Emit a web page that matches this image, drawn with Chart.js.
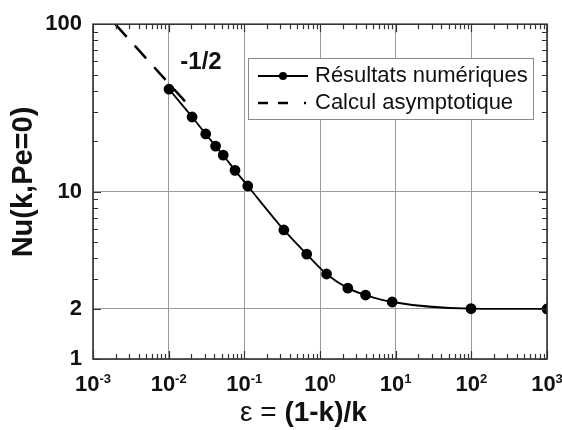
<!DOCTYPE html>
<html><head><meta charset="utf-8">
<script src="https://cdn.jsdelivr.net/npm/chart.js@4"></script>
<style>html,body{margin:0;padding:0;background:#fff}#wrap{width:562px;height:430px}</style>
</head><body><div id="wrap"><canvas id="c" width="562" height="430"></canvas></div>
<script>
// ---- data ----
const epsilon   = [0.0101, 0.0204, 0.0309, 0.0417, 0.0526, 0.0753, 0.111, 0.333, 0.667, 1.22, 2.33, 4.0, 9.0, 99, 999];
const nuNumeric = [40.9, 27.9, 22.1, 18.7, 16.5, 13.4, 10.8, 5.9, 4.23, 3.22, 2.65, 2.41, 2.19, 2.0, 1.99];
const asymEps   = [0.00197, 0.019];
const asymNu    = [100, 32.2];
const xTickExponents = [-3, -2, -1, 0, 1, 2, 3];
const yTickValues    = [1, 2, 10, 100];
const legendLabels   = ['Résultats numériques', 'Calcul asymptotique'];
const slopeLabel     = '-1/2';
const xTitleParts    = ['ε = ', '(1-k)/k'];
const yTitle         = 'Nu(k,Pe=0)';

const FF = "'Liberation Sans', Arial, sans-serif";
const numericPts = epsilon.map((e, i) => ({x: e, y: nuNumeric[i]}));
const asymPts = asymEps.map((e, i) => ({x: e, y: asymNu[i]}));

const decor = {
  id: 'decor',
  beforeDraw(chart) {
    const ctx = chart.ctx;
    ctx.save(); ctx.fillStyle = '#fff'; ctx.fillRect(0, 0, chart.width, chart.height); ctx.restore();
  },
  afterDraw(chart) {
    const ctx = chart.ctx, a = chart.chartArea, xs = chart.scales.x, ys = chart.scales.y;
    ctx.save();
    // minor / major tick marks (inside)
    ctx.strokeStyle = '#333'; ctx.lineWidth = 1.2;
    ctx.beginPath();
    for (let d = -3; d <= 3; d++) {
      for (let m = 1; m <= 9; m++) {
        if (d === 3 && m > 1) break;
        const v = m * Math.pow(10, d);
        const px = Math.round(xs.getPixelForValue(v)) + 0.5;
        const L = m === 1 ? 8 : 5;
        ctx.moveTo(px, a.bottom); ctx.lineTo(px, a.bottom - L);
        ctx.moveTo(px, a.top); ctx.lineTo(px, a.top + L);
      }
    }
    for (let d = 0; d <= 2; d++) {
      for (let m = 1; m <= 9; m++) {
        if (d === 2 && m > 1) break;
        const v = m * Math.pow(10, d);
        const py = Math.round(ys.getPixelForValue(v)) + 0.5;
        const L = yTickValues.includes(v) ? 8 : 5;
        ctx.moveTo(a.left, py); ctx.lineTo(a.left + L, py);
        ctx.moveTo(a.right, py); ctx.lineTo(a.right - L, py);
      }
    }
    ctx.stroke();
    // frame
    ctx.lineWidth = 1.6; ctx.strokeStyle = '#333';
    ctx.strokeRect(a.left, a.top, a.right - a.left, a.bottom - a.top);

    // x tick labels with superscripts
    ctx.fillStyle = '#111'; ctx.textBaseline = 'alphabetic'; ctx.textAlign = 'left';
    xTickExponents.forEach(e => {
      const px = xs.getPixelForValue(Math.pow(10, e));
      ctx.font = `bold 22px ${FF}`;
      const w1 = ctx.measureText('10').width;
      ctx.font = `bold 13px ${FF}`;
      const sup = String(e);
      const w2 = ctx.measureText(sup).width;
      const x0 = px - (w1 + w2) / 2;
      ctx.font = `bold 22px ${FF}`;
      ctx.fillText('10', x0, 391);
      ctx.font = `bold 13px ${FF}`;
      ctx.fillText(sup, x0 + w1, 383);
    });

    // axis titles
    ctx.font = `28px ${FF}`;
    ctx.textBaseline = 'middle';
    ctx.fillText(xTitleParts[0], 240, 413);
    const wt = ctx.measureText(xTitleParts[0]).width;
    ctx.font = `bold 28px ${FF}`;
    ctx.fillText(xTitleParts[1], 240 + wt, 413);

    ctx.save();
    ctx.translate(24, 182); ctx.rotate(-Math.PI / 2);
    ctx.textAlign = 'center'; ctx.font = `bold 29px ${FF}`;
    ctx.fillText(yTitle, 0, 0);
    ctx.restore();

    // slope label
    ctx.textAlign = 'center'; ctx.font = `bold 24px ${FF}`;
    ctx.fillText(slopeLabel, 201, 62);

    // legend
    ctx.fillStyle = '#fff';
    ctx.fillRect(248, 58, 285, 61);
    ctx.strokeStyle = '#8a8a8a'; ctx.lineWidth = 1;
    ctx.strokeRect(248.5, 58.5, 285, 61);
    ctx.strokeStyle = '#000'; ctx.fillStyle = '#000'; ctx.lineWidth = 1.8;
    ctx.beginPath(); ctx.moveTo(258, 76); ctx.lineTo(308, 76); ctx.stroke();
    ctx.beginPath(); ctx.arc(283, 76, 4, 0, Math.PI * 2); ctx.fill();
    ctx.lineWidth = 2.5;
    ctx.beginPath();
    ctx.moveTo(258, 103); ctx.lineTo(268, 103);
    ctx.moveTo(278, 103); ctx.lineTo(288, 103);
    ctx.moveTo(304, 103); ctx.lineTo(306, 103);
    ctx.stroke();
    ctx.fillStyle = '#111'; ctx.textAlign = 'left'; ctx.textBaseline = 'middle';
    ctx.font = `22px ${FF}`;
    ctx.fillText(legendLabels[0], 315, 76);
    ctx.fillText(legendLabels[1], 315, 103);
    ctx.restore();
  }
};

new Chart(document.getElementById('c'), {
  type: 'line',
  data: {
    datasets: [
      {
        label: legendLabels[0], data: numericPts,
        borderColor: '#000', backgroundColor: '#000', borderWidth: 1.8,
        pointRadius: 4.5, pointBackgroundColor: '#000', pointBorderColor: '#000',
        cubicInterpolationMode: 'monotone', fill: false
      },
      {
        label: legendLabels[1], data: asymPts,
        borderColor: '#000', borderWidth: 2.5, borderDash: [17, 12],
        pointRadius: 0, fill: false
      }
    ]
  },
  options: {
    responsive: false, animation: false, devicePixelRatio: 1,
    layout: {padding: {left: 0, top: 24, right: 15, bottom: 0}},
    plugins: {legend: {display: false}, tooltip: {enabled: false}},
    scales: {
      x: {
        type: 'logarithmic', min: 0.001, max: 1000,
        afterBuildTicks: s => { s.ticks = xTickExponents.map(e => ({value: Math.pow(10, e)})); },
        afterFit: s => { s.height = 71; },
        ticks: {display: false},
        grid: {color: '#9a9a9a', lineWidth: 1, drawTicks: false},
        border: {display: false}
      },
      y: {
        type: 'logarithmic', min: 1, max: 100,
        afterBuildTicks: s => { s.ticks = yTickValues.map(v => ({value: v})); },
        afterFit: s => { s.width = 93; },
        ticks: {
          padding: 11, color: '#111',
          font: {family: FF, size: 22, weight: 'bold'},
          callback: v => String(v)
        },
        grid: {color: '#9a9a9a', lineWidth: 1, drawTicks: false},
        border: {display: false}
      }
    }
  },
  plugins: [decor]
});
</script>
</body></html>
